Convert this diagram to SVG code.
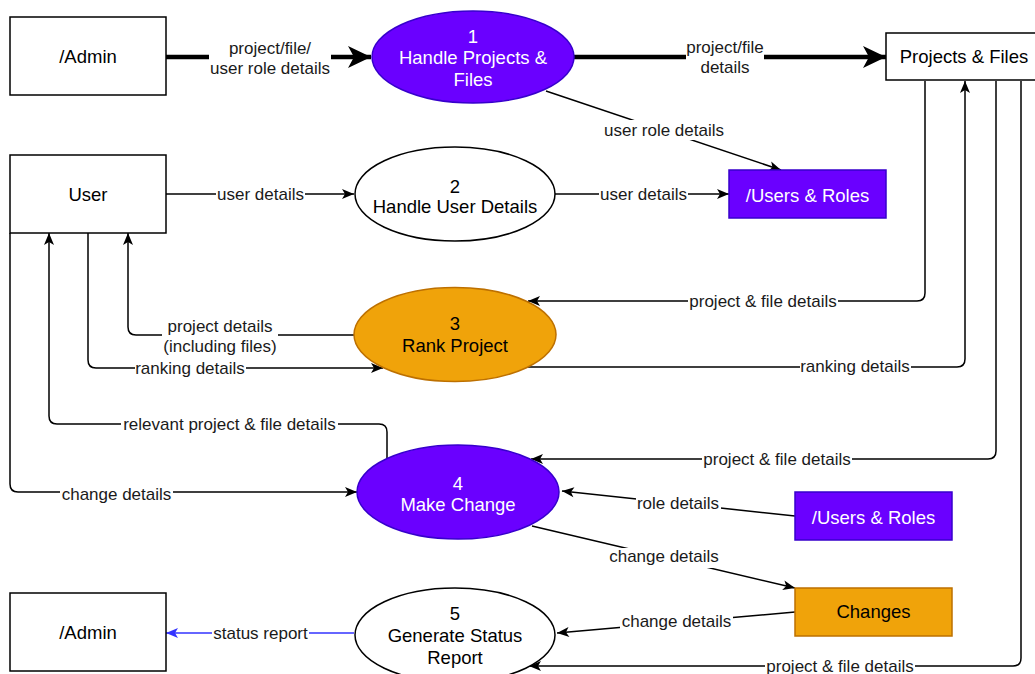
<svg xmlns="http://www.w3.org/2000/svg" width="1035" height="674" viewBox="0 0 1035 674">
<style>
  text { font-family: "Liberation Sans", Arial, sans-serif; }
  .nt { font-size: 18.5px; text-anchor: middle; fill: #000; }
  .nw { font-size: 18.5px; text-anchor: middle; fill: #fff; }
  .lt { font-size: 17px; text-anchor: middle; fill: #1a1a1a; }
  .lb { fill: #fff; stroke: none; }
  .ent { fill: #fff; stroke: #000; stroke-width: 1.5; }
  .proc { fill: #fff; stroke: #000; stroke-width: 1.5; }
  .purple { fill: #6a00ff; stroke: #3700cc; stroke-width: 1.5; }
  .orange { fill: #f0a30a; stroke: #bd7000; stroke-width: 1.5; }
  .c { fill: none; stroke: #000; stroke-width: 1.5; marker-end: url(#arr); }
  .ct { fill: none; stroke: #000; stroke-width: 4.5; marker-end: url(#arrT); }
  .cb { fill: none; stroke: #3333ff; stroke-width: 1.5; marker-end: url(#arrB); }
</style>
<defs>
  <marker id="arr" markerUnits="userSpaceOnUse" markerWidth="14" markerHeight="12" refX="12" refY="5" orient="auto" overflow="visible">
    <path d="M0,0 L12,5 L0,10 L3,5 Z" fill="#000"/>
  </marker>
  <marker id="arrB" markerUnits="userSpaceOnUse" markerWidth="14" markerHeight="12" refX="12" refY="5" orient="auto" overflow="visible">
    <path d="M0,0 L12,5 L0,10 L3,5 Z" fill="#3333ff"/>
  </marker>
  <marker id="arrT" markerUnits="userSpaceOnUse" markerWidth="26" markerHeight="24" refX="23" refY="11" orient="auto" overflow="visible">
    <path d="M0,0 L23,11 L0,22 L6,11 Z" fill="#000"/>
  </marker>
</defs>
<rect width="1035" height="674" fill="#fff"/>

<g id="connectors">
  <path class="ct" d="M166,57 H371"/>
  <path class="ct" d="M574,57 H886"/>
  <path class="c" d="M546,91 L781,170"/>
  <path class="c" d="M166,194 H354"/>
  <path class="c" d="M555,194 H729"/>
  <path class="c" d="M925,81 V293 Q925,301 917,301 H528"/>
  <path class="c" d="M528,367 H957 Q965,367 965,359 V81"/>
  <path class="c" d="M996,81 V451 Q996,459 988,459 H531"/>
  <path class="c" d="M1021,81 V658 Q1021,666 1013,666 H529"/>
  <path class="c" d="M354,335 H136 Q128,335 128,327 V233"/>
  <path class="c" d="M88,233 V360 Q88,368 96,368 H383"/>
  <path class="c" d="M387,459 V432 Q387,424 379,424 H57 Q49,424 49,416 V233"/>
  <path class="c" d="M10,233 V484 Q10,492 18,492 H357"/>
  <path class="c" d="M795,516 L562,491"/>
  <path class="c" d="M532,526 L795,588"/>
  <path class="c" d="M795,612 L557,633"/>
  <path class="cb" d="M354,633 H166"/>

  <g id="labels">
    <rect class="lb" x="209" y="39" width="122" height="40"/>
    <text class="lt" x="270" y="54">project/file/</text>
    <text class="lt" x="270" y="74">user role details</text>

    <rect class="lb" x="686" y="39" width="78" height="40"/>
    <text class="lt" x="725" y="53">project/file</text>
    <text class="lt" x="725" y="73">details</text>

    <rect class="lb" x="603" y="120" width="122" height="20"/>
    <text class="lt" x="664" y="136">user role details</text>

    <rect class="lb" x="216" y="184" width="89" height="20"/>
    <text class="lt" x="260.5" y="200">user details</text>

    <rect class="lb" x="599" y="184" width="89" height="20"/>
    <text class="lt" x="643.5" y="200">user details</text>

    <rect class="lb" x="688" y="291" width="150" height="20"/>
    <text class="lt" x="763" y="307">project &amp; file details</text>

    <rect class="lb" x="800" y="356" width="111" height="20"/>
    <text class="lt" x="855" y="372">ranking details</text>

    <rect class="lb" x="702" y="449" width="150" height="20"/>
    <text class="lt" x="777" y="465">project &amp; file details</text>

    <rect class="lb" x="765" y="656" width="150" height="20"/>
    <text class="lt" x="840" y="672">project &amp; file details</text>

    <rect class="lb" x="162" y="316" width="116" height="40"/>
    <text class="lt" x="220" y="332">project details</text>
    <text class="lt" x="220" y="352">(including files)</text>

    <rect class="lb" x="135" y="358" width="111" height="20"/>
    <text class="lt" x="190" y="374">ranking details</text>

    <rect class="lb" x="121" y="414" width="217" height="20"/>
    <text class="lt" x="229.5" y="430">relevant project &amp; file details</text>

    <rect class="lb" x="60" y="485" width="113" height="20"/>
    <text class="lt" x="116.5" y="500">change details</text>

    <rect class="lb" x="636" y="494" width="85" height="20"/>
    <text class="lt" x="678" y="509">role details</text>

    <rect class="lb" x="608" y="548" width="113" height="20"/>
    <text class="lt" x="664" y="562">change details</text>

    <rect class="lb" x="620" y="613" width="113" height="20"/>
    <text class="lt" x="676.5" y="627">change details</text>

    <rect class="lb" x="212" y="624" width="97" height="20"/>
    <text class="lt" x="260.5" y="639">status report</text>
  </g>
</g>

<g id="admin-top">
  <rect class="ent" x="10" y="17" width="156" height="78"/>
  <text class="nt" x="88" y="63">/Admin</text>
</g>
<g id="user">
  <rect class="ent" x="10" y="155" width="156" height="78"/>
  <text class="nt" x="88" y="201">User</text>
</g>
<g id="admin-bottom">
  <rect class="ent" x="10" y="593" width="156" height="78"/>
  <text class="nt" x="88" y="639">/Admin</text>
</g>
<g id="projects-files">
  <rect class="ent" x="886" y="33" width="156" height="47"/>
  <text class="nt" x="964" y="63">Projects &amp; Files</text>
</g>
<g id="users-roles-1">
  <rect class="purple" x="729" y="170" width="157" height="48"/>
  <text class="nw" x="807.5" y="202">/Users &amp; Roles</text>
</g>
<g id="users-roles-2">
  <rect class="purple" x="795" y="492" width="157" height="48"/>
  <text class="nw" x="873.5" y="524">/Users &amp; Roles</text>
</g>
<g id="changes">
  <rect class="orange" x="795" y="588" width="157" height="48"/>
  <text class="nt" x="873.5" y="618" fill="#1a1a1a">Changes</text>
</g>
<g id="p1">
  <ellipse class="purple" cx="473" cy="57" rx="101" ry="46"/>
  <text class="nw" x="473" y="43">1</text>
  <text class="nw" x="473" y="64">Handle Projects &amp;</text>
  <text class="nw" x="473" y="86">Files</text>
</g>
<g id="p2">
  <ellipse class="proc" cx="455" cy="194" rx="100" ry="47"/>
  <text class="nt" x="455" y="193">2</text>
  <text class="nt" x="455" y="213">Handle User Details</text>
</g>
<g id="p3">
  <ellipse class="orange" cx="455" cy="334.5" rx="101" ry="47"/>
  <text class="nt" x="455" y="330" fill="#1a1a1a">3</text>
  <text class="nt" x="455" y="352" fill="#1a1a1a">Rank Project</text>
</g>
<g id="p4">
  <ellipse class="purple" cx="458" cy="492" rx="101" ry="47"/>
  <text class="nw" x="458" y="490">4</text>
  <text class="nw" x="458" y="511">Make Change</text>
</g>
<g id="p5">
  <ellipse class="proc" cx="455" cy="635" rx="100" ry="47"/>
  <text class="nt" x="455" y="620">5</text>
  <text class="nt" x="455" y="642">Generate Status</text>
  <text class="nt" x="455" y="664">Report</text>
</g>
</svg>
